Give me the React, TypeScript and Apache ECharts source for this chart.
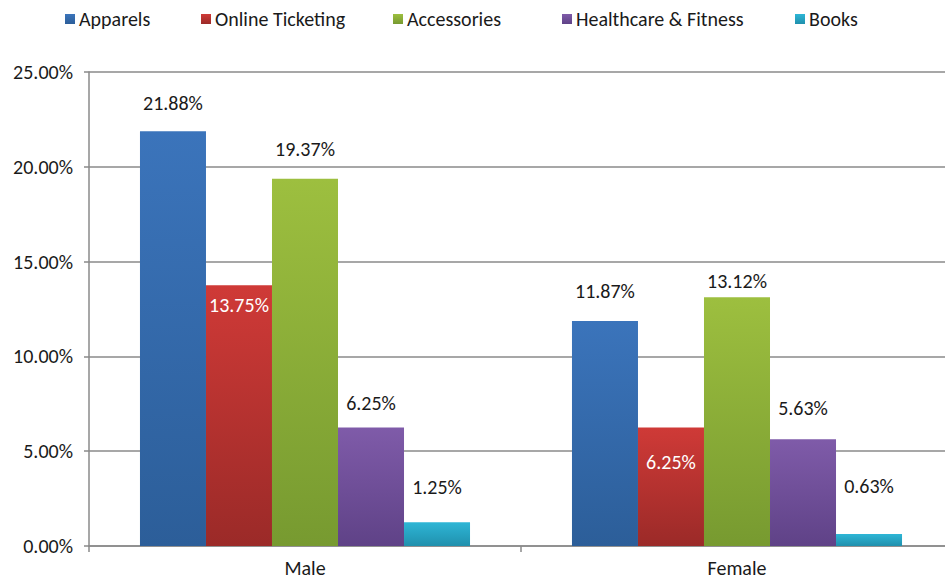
import React, { useEffect, useRef } from "react";
import * as echarts from "echarts";

const categories = ["Male", "Female"];
const seriesNames = ["Apparels", "Online Ticketing", "Accessories", "Healthcare & Fitness", "Books"];
const apparels = [21.88, 11.87];
const onlineTicketing = [13.75, 6.25];
const accessories = [19.37, 13.12];
const healthcare = [6.25, 5.63];
const books = [1.25, 0.63];
const yTicks = [0, 5, 10, 15, 20, 25];

// label distances (px) per series, per category
const labelDistances = [
  [18, 20],
  [10, 24],
  [20, 6],
  [15, 21],
  [25, 38],
];
const legendLefts = [65, 201, 393, 562, 795];

const colors: [string, string][] = [
  ["#3b74bb", "#2c5e99"],
  ["#cf3a37", "#9b2a28"],
  ["#9dbf3f", "#779a30"],
  ["#7f5ba9", "#5f4287"],
  ["#2eb6d6", "#2090ad"],
];

const FONT = "Carlito, Lato, 'Open Sans', sans-serif";
const FS = 20;

export default function App() {
  const ref = useRef<HTMLDivElement>(null);
  useEffect(() => {
    if (!ref.current) return;
    const chart = echarts.init(ref.current, undefined, { renderer: "svg" });
    const values = [apparels, onlineTicketing, accessories, healthcare, books];
    const series = values.map((vals, si) => ({
      name: seriesNames[si],
      type: "bar" as const,
      barGap: "0%",
      barCategoryGap: "23.6%",
      itemStyle: {
        color: new echarts.graphic.LinearGradient(0, 0, 0, 1, [
          { offset: 0, color: colors[si][0] },
          { offset: 1, color: colors[si][1] },
        ]),
      },
      data: vals.map((v, ci) => ({
        value: v,
        label: {
          show: true,
          position: si === 1 ? "insideTop" : "top",
          distance: labelDistances[si][ci],
          color: si === 1 ? "#ffffff" : "#1a1a1a",
          fontSize: FS,
          lineHeight: 20,
          fontFamily: FONT,
          formatter: (p: any) => p.value.toFixed(2) + "%",
        },
      })),
    }));
    chart.setOption({
      animation: false,
      backgroundColor: "#ffffff",
      color: colors.map((c) => c[0]),
      legend: seriesNames.map((name, i) => ({
        top: 9,
        left: legendLefts[i],
        padding: 0,
        itemWidth: 10,
        itemHeight: 10,
        itemGap: 0,
        icon: "rect",
        textStyle: { fontSize: FS, fontFamily: FONT, color: "#1a1a1a", padding: [0, 0, 0, -1] },
        data: [name],
      })),
      grid: { left: 89, top: 72, right: 0, bottom: 33, containLabel: false },
      xAxis: {
        type: "category",
        data: categories,
        axisLine: { show: true, lineStyle: { color: "#8a8a8a", width: 1.5 } },
        axisTick: { show: true, length: 6, lineStyle: { color: "#8a8a8a", width: 1.5 } },
        axisLabel: { fontSize: FS, lineHeight: 19, fontFamily: FONT, color: "#1a1a1a", margin: 12 },
      },
      yAxis: {
        type: "value",
        min: yTicks[0],
        max: yTicks[yTicks.length - 1],
        interval: 5,
        axisLine: { show: true, lineStyle: { color: "#8a8a8a", width: 1.5 } },
        axisTick: { show: true, length: 5, lineStyle: { color: "#8a8a8a", width: 1.5 } },
        axisLabel: {
          fontSize: FS,
          fontFamily: FONT,
          color: "#1a1a1a",
          margin: 16,
          formatter: (v: number) => v.toFixed(2) + "%",
        },
        splitLine: { show: true, lineStyle: { color: "#8a8a8a", width: 1.5 } },
      },
      series,
    });
    return () => chart.dispose();
  }, []);
  return (
    <div style={{ width: 945, height: 579, position: "absolute", left: 0, top: 0, overflow: "hidden" }}>
      <div ref={ref} style={{ width: 953, height: 579 }} />
    </div>
  );
}
